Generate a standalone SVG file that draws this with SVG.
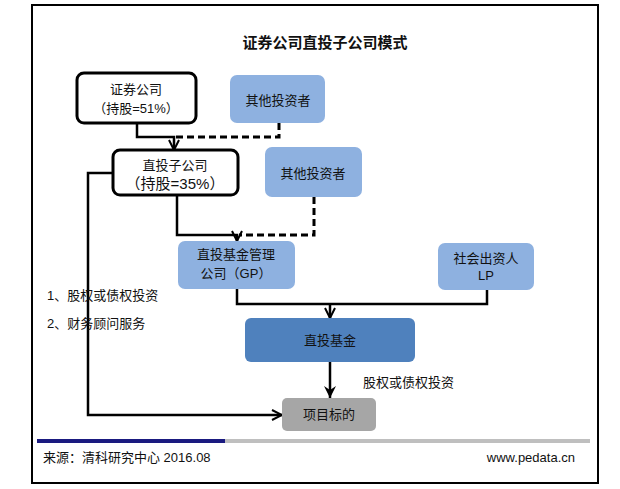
<svg xmlns="http://www.w3.org/2000/svg" width="620" height="489" viewBox="0 0 620 489">
<style>
text{font-family:"Liberation Sans","Noto Sans CJK SC",sans-serif;fill:#111;text-anchor:middle;dominant-baseline:central}
.t{font-size:13px}
.white{fill:#fff;stroke:#000;stroke-width:3}
.lb{fill:#8eb1e0}
.db{fill:#4f81bd}
.gr{fill:#a6a6a6}
.c{fill:none;stroke:#000;stroke-width:2.5}
.d{fill:none;stroke:#000;stroke-width:3;stroke-dasharray:7,4}
</style>
<defs>
<marker id="v" viewBox="0 0 12 12" refX="11" refY="6" markerWidth="12" markerHeight="12" markerUnits="userSpaceOnUse" orient="auto">
<path d="M1,1 L11,6 L1,11" fill="none" stroke="#000" stroke-width="2"/>
</marker>
<marker id="f" viewBox="0 0 14 14" refX="13" refY="7" markerWidth="14" markerHeight="14" markerUnits="userSpaceOnUse" orient="auto">
<path d="M1,1 L13,7 L1,13 L5,7 Z" fill="#000"/>
</marker>
</defs>
<rect x="0" y="0" width="620" height="489" fill="#fff"/>
<rect x="32" y="5" width="566" height="478" fill="#fff" stroke="#000" stroke-width="2"/>
<text x="325" y="42" style="font-size:15px;font-weight:bold">证券公司直投子公司模式</text>

<g id="connectors">
<polyline class="c" points="137,123 137,137 174,137 174,150" marker-end="url(#v)"/>
<polyline class="d" points="279,123 279,137 176,137"/>
<polyline class="c" points="177,195 177,235 237,235 237,241" marker-end="url(#v)"/>
<polyline class="d" points="314,197 314,235 239,235"/>
<polyline class="c" points="237,289 237,304 487,304 487,290"/>
<line class="c" x1="330" y1="304" x2="330" y2="318" marker-end="url(#v)"/>
<line class="c" x1="330" y1="362" x2="330" y2="398" marker-end="url(#f)"/>
<polyline class="c" points="113,173 88,173 88,415 282,415" marker-end="url(#v)"/>
</g>

<g id="n-securities">
<rect class="white" x="77" y="73" width="119" height="50" rx="7"/>
<text class="t" x="136" y="89">证券公司</text>
<text class="t" x="136" y="108">（持股=51%）</text>
</g>
<g id="n-other1">
<rect class="lb" x="230" y="75" width="95" height="48" rx="7"/>
<text class="t" x="278" y="100">其他投资者</text>
</g>
<g id="n-subsidiary">
<rect class="white" x="113" y="150" width="125" height="45" rx="7"/>
<text class="t" x="175" y="165">直投子公司</text>
<text x="175" y="183" style="font-size:15px">（持股=35%）</text>
</g>
<g id="n-other2">
<rect class="lb" x="265" y="147" width="97" height="50" rx="7"/>
<text class="t" x="313" y="173">其他投资者</text>
</g>
<g id="n-gp">
<rect class="lb" x="178" y="241" width="117" height="48" rx="7"/>
<text class="t" x="236" y="254">直投基金管理</text>
<text class="t" x="236" y="273">公司（GP）</text>
</g>
<g id="n-lp">
<rect class="lb" x="438" y="243" width="96" height="47" rx="7"/>
<text class="t" x="486" y="258">社会出资人</text>
<text class="t" x="486" y="275">LP</text>
</g>
<g id="n-fund">
<rect class="db" x="245" y="318" width="170" height="44" rx="6"/>
<text class="t" x="330" y="340">直投基金</text>
</g>
<g id="n-target">
<rect class="gr" x="282" y="398" width="94" height="33" rx="5"/>
<text class="t" x="329" y="414">项目标的</text>
</g>

<text class="t" x="363" y="382" style="text-anchor:start">股权或债权投资</text>
<text class="t" x="47" y="295" style="text-anchor:start">1、股权或债权投资</text>
<text class="t" x="47" y="323" style="text-anchor:start">2、财务顾问服务</text>

<rect x="37" y="439" width="188" height="4" fill="#1a1a80"/>
<rect x="225" y="439" width="365" height="4" fill="#bfbfbf"/>
<text class="t" x="43" y="457" style="text-anchor:start">来源：清科研究中心 2016.08</text>
<text class="t" x="575" y="457" style="text-anchor:end">www.pedata.cn</text>
</svg>
